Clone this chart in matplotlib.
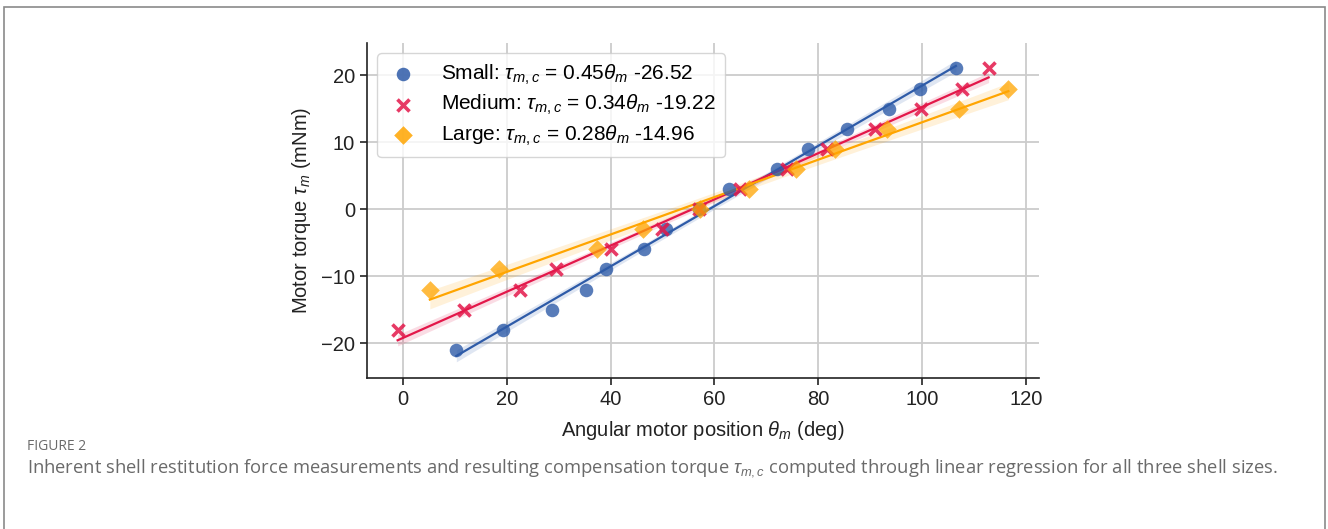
import numpy as np
import matplotlib
matplotlib.use("Agg")
import matplotlib.pyplot as plt
from matplotlib.patches import Rectangle

# ---------------- data ----------------
small_x = [10.3, 19.2, 28.8, 35.2, 39.2, 46.5, 50.6, 57.0, 62.8, 72.0, 78.1, 85.5, 93.7, 99.5, 106.5]
small_y = [-21, -18, -15, -12, -9, -6, -3, 0, 3, 6, 9, 12, 15, 18, 21]
medium_x = [-1.0, 11.8, 22.6, 29.4, 40.1, 49.9, 57.0, 65.0, 74.0, 81.7, 91.0, 99.8, 107.6, 112.8]
medium_y = [-18, -15, -12, -9, -6, -3, 0, 3, 6, 9, 12, 15, 18, 21]
large_x = [5.2, 18.5, 37.4, 46.3, 57.3, 66.6, 75.8, 83.3, 93.2, 107.0, 116.6]
large_y = [-12, -9, -6, -3, 0, 3, 6, 9, 12, 15, 18]

labels = [r"Small: $\tau_{m,c}$ = 0.45$\theta_m$ -26.52",
          r"Medium: $\tau_{m,c}$ = 0.34$\theta_m$ -19.22",
          r"Large: $\tau_{m,c}$ = 0.28$\theta_m$ -14.96"]
x_ticks = [0, 20, 40, 60, 80, 100, 120]
y_ticks = [-20, -10, 0, 10, 20]

colors = ["#2E5BA8", "#E3174A", "#FFA500"]
markers = ["o", "x", "D"]

plt.rcParams["font.family"] = ["Liberation Sans", "DejaVu Sans"]
plt.rcParams["mathtext.fontset"] = "custom"
plt.rcParams["mathtext.rm"] = "Liberation Sans"
plt.rcParams["mathtext.it"] = "Liberation Sans:italic"
plt.rcParams["mathtext.bf"] = "Liberation Sans:bold"

FS = 14.5

fig = plt.figure(figsize=(13.28, 5.29), dpi=100)

# outer frame
fig.patches.append(Rectangle((4 / 1328, -0.1), (1325 - 4) / 1328, 1.1 - 7 / 529,
                             transform=fig.transFigure, fill=False,
                             edgecolor="#8a8a8a", linewidth=1.2))

ax = fig.add_axes([367 / 1328, 1 - 378 / 529, (1039 - 367) / 1328, (378 - 43) / 529])

t95 = {9: 2.262, 12: 2.179, 13: 2.160}

def regline(x, y, color, marker, label):
    x = np.asarray(x, float)
    y = np.asarray(y, float)
    n = len(x)
    b, a = np.polyfit(x, y, 1)
    xs = np.linspace(x.min(), x.max(), 100)
    ys = a + b * xs
    resid = y - (a + b * x)
    s = np.sqrt(np.sum(resid ** 2) / (n - 2))
    sxx = np.sum((x - x.mean()) ** 2)
    se = s * np.sqrt(1 / n + (xs - x.mean()) ** 2 / sxx)
    t = t95.get(n - 2, 2.2)
    ax.fill_between(xs, ys - t * se, ys + t * se, color=color, alpha=0.15, linewidth=0, zorder=2)
    ax.plot(xs, ys, color=color, linewidth=1.6, zorder=3)
    if marker == "x":
        ax.scatter(x, y, marker="x", s=75, color=color, alpha=0.85, linewidths=2.6, zorder=4, label=label)
    elif marker == "D":
        ax.scatter(x, y, marker="D", s=90, color=color, alpha=0.75, linewidths=0, zorder=4, label=label)
    else:
        ax.scatter(x, y, marker="o", s=95, color=color, alpha=0.8, linewidths=0, zorder=4, label=label)

regline(small_x, small_y, colors[0], markers[0], labels[0])
regline(medium_x, medium_y, colors[1], markers[1], labels[1])
regline(large_x, large_y, colors[2], markers[2], labels[2])

ax.set_xlim(-6.9, 122.5)
ax.set_ylim(-25.2, 24.8)
ax.set_xticks(x_ticks)
ax.set_yticks(y_ticks)
ax.grid(True, color="#cccccc", linewidth=1.3)
ax.set_axisbelow(True)
for sp in ["top", "right"]:
    ax.spines[sp].set_visible(False)
for sp in ["left", "bottom"]:
    ax.spines[sp].set_color("#222222")
    ax.spines[sp].set_linewidth(1.2)
ax.tick_params(axis="both", labelsize=FS, length=5, width=1.2, color="#222222", labelcolor="#222222")
ax.set_xlabel(r"Angular motor position $\theta_m$ (deg)", fontsize=FS, color="#222222", labelpad=7)
ax.set_ylabel(r"Motor torque $\tau_m$ (mNm)", fontsize=FS, color="#222222", labelpad=6)

leg = ax.legend(loc="upper left", fontsize=15, frameon=True, fancybox=True,
                labelspacing=0.3, borderpad=0.45, handletextpad=1.0, handlelength=1.6,
                borderaxespad=0.5)
leg.get_frame().set_edgecolor("#cccccc")
leg.get_frame().set_linewidth(1.0)
for h in leg.legend_handles:
    h.set_alpha(0.85)

fig.text(27 / 1328, 1 - 446 / 529, "FIGURE 2", fontsize=10, color="#6a6a6a",
         family=["Open Sans", "DejaVu Sans"], va="center", ha="left")
fig.text(27 / 1328, 1 - 468 / 529,
         r"Inherent shell restitution force measurements and resulting compensation torque $\tau_{m,c}$ computed through linear regression for all three shell sizes.",
         fontsize=13.2, color="#6a6a6a", family=["Open Sans", "DejaVu Sans"], va="center", ha="left")

fig.savefig("out.png", dpi=100)
